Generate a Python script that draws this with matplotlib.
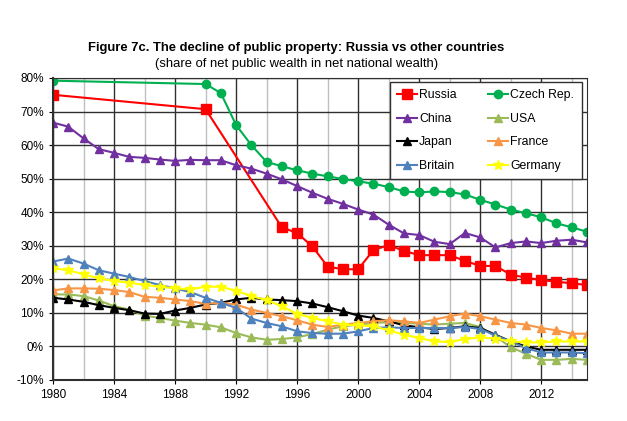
import matplotlib
matplotlib.use('Agg')
import matplotlib.pyplot as plt
from matplotlib.ticker import MultipleLocator, FuncFormatter

plt.rcParams['font.family'] = ['Liberation Sans', 'DejaVu Sans']

years = list(range(1980, 2016))

russia_years = [1980, 1990] + list(range(1995, 2016))
russia = [75.0, 70.7, 35.5, 33.8, 29.8, 23.8, 23.0, 23.0, 28.7, 30.2, 28.5, 27.2,
          27.2, 27.2, 25.5, 24.0, 24.0, 21.4, 20.5, 19.8, 19.3, 18.8, 18.3]

czech_years = [1980, 1990] + list(range(1991, 2016))
czech = [79.2, 78.2, 75.5, 66.0, 60.0, 55.0, 53.7, 52.5, 51.5, 50.7, 49.9, 49.2,
         48.5, 47.5, 46.2, 45.9, 46.2, 46.0, 45.3, 43.7, 42.3, 40.8, 39.7, 38.5,
         36.7, 35.5, 34.2]

china = [66.7, 65.5, 62.0, 58.8, 57.7, 56.5, 56.2, 55.7, 55.3, 55.6, 55.5, 55.5,
         54.0, 53.0, 51.5, 49.8, 47.8, 45.8, 44.0, 42.5, 40.8, 39.3, 36.3, 33.7,
         33.2, 31.2, 30.5, 33.8, 32.5, 29.5, 30.8, 31.3, 30.8, 31.5, 31.8, 31.0]

usa = [15.5, 15.5, 15.0, 13.7, 12.0, 11.0, 9.2, 8.5, 7.7, 7.0, 6.5, 5.7,
       4.0, 2.7, 2.0, 2.2, 2.7, 3.7, 5.0, 6.0, 6.5, 7.0, 7.2, 7.0,
       6.8, 6.5, 6.8, 7.0, 5.8, 3.0, -0.2, -2.2, -4.0, -4.0, -3.7, -4.0]

japan = [14.5, 14.0, 13.3, 12.3, 11.5, 10.8, 9.8, 9.7, 10.7, 11.5, 12.5, 13.0,
         14.0, 14.5, 14.0, 13.8, 13.5, 12.8, 11.7, 10.5, 9.2, 8.5, 7.5, 6.3,
         5.7, 5.2, 5.5, 6.0, 5.5, 3.5, 1.5, 0.0, -1.0, -1.0, -1.0, -1.0]

france = [16.7, 17.3, 17.3, 17.2, 16.8, 16.2, 14.8, 14.5, 14.0, 13.5, 12.7, 13.0,
          12.5, 11.0, 10.0, 9.0, 7.8, 6.5, 5.8, 6.5, 7.0, 7.5, 7.8, 7.5,
          7.0, 8.0, 9.0, 9.8, 9.0, 8.0, 7.0, 6.5, 5.5, 4.8, 3.8, 3.8]

britain = [25.3, 26.2, 24.7, 22.7, 21.7, 20.7, 19.5, 18.3, 17.3, 16.2, 14.5, 13.0,
           11.5, 8.3, 7.0, 6.0, 4.5, 4.0, 3.8, 3.8, 4.5, 5.5, 5.7, 5.5,
           5.5, 5.5, 5.5, 5.8, 5.2, 3.3, 1.5, -0.5, -1.8, -1.8, -1.8, -2.0]

germany = [23.3, 22.7, 21.5, 20.3, 19.5, 19.0, 18.3, 17.8, 17.3, 17.0, 17.8, 17.8,
           16.6, 15.0, 13.8, 12.0, 9.7, 8.5, 7.5, 6.5, 6.3, 6.0, 4.8, 3.5,
           2.5, 1.5, 1.3, 2.2, 2.7, 2.3, 1.5, 1.2, 1.2, 1.5, 1.5, 1.5]

fig = plt.figure(figsize=(6.27, 4.21), dpi=100)
ax = fig.add_axes([53 / 627, 1 - 380 / 421, 534 / 627, 302 / 421])

ms = 5.5
h_russia, = ax.plot(russia_years, russia, color='#ff0000', marker='s', markersize=6.5, lw=1.5, label='Russia')
h_czech, = ax.plot(czech_years, czech, color='#00b050', marker='o', markersize=6, lw=1.5, label='Czech Rep.')
h_china, = ax.plot(years, china, color='#7030a0', marker='^', markersize=ms, lw=1.5, label='China')
h_usa, = ax.plot(years, usa, color='#9bbb59', marker='^', markersize=ms, lw=1.5, label='USA')
h_japan, = ax.plot(years, japan, color='black', marker='^', markersize=ms, lw=1.5, label='Japan')
h_france, = ax.plot(years, france, color='#f79646', marker='^', markersize=ms, lw=1.5, label='France')
h_britain, = ax.plot(years, britain, color='#4f81bd', marker='^', markersize=ms, lw=1.5, label='Britain')
h_germany, = ax.plot(years, germany, color='#ffff00', marker='*', markersize=7.5, lw=1.5, label='Germany')

ax.set_xlim(1980, 2015)
ax.set_ylim(-10, 80)
ax.xaxis.set_major_locator(MultipleLocator(4))
ax.xaxis.set_minor_locator(MultipleLocator(2))
ax.yaxis.set_major_locator(MultipleLocator(10))
ax.yaxis.set_major_formatter(FuncFormatter(lambda v, p: f'{v:.0f}%'))
ax.grid(True, which='major', color='#303030', lw=1.0)
ax.grid(True, which='minor', axis='x', color='#c0c0c0', lw=1.0)
ax.set_axisbelow(True)
ax.tick_params(labelsize=8.5, length=3)
ax.tick_params(which='minor', length=0)
for s in ax.spines.values():
    s.set_color('#303030')
ax.spines['left'].set_linewidth(1.5)
ax.spines['bottom'].set_linewidth(1.5)

handles = [h_russia, h_china, h_japan, h_britain, h_czech, h_usa, h_france, h_germany]
leg = ax.legend(handles=handles, ncol=2, loc='upper right', bbox_to_anchor=(0.99, 0.987),
                borderaxespad=0, fontsize=8.8, labelspacing=0.95, handlelength=1.6,
                handletextpad=0.2, columnspacing=2.6, fancybox=False, framealpha=1,
                borderpad=0.6)
leg.get_frame().set_edgecolor('#303030')
leg.get_frame().set_linewidth(1.0)

fig.text(0.473, 1 - 48 / 421, 'Figure 7c. The decline of public property: Russia vs other countries',
         ha='center', va='center', fontsize=9.4, fontweight='bold')
fig.text(0.473, 1 - 64 / 421, '(share of net public wealth in net national wealth)',
         ha='center', va='center', fontsize=9.4)

plt.savefig('out.png', dpi=100)
